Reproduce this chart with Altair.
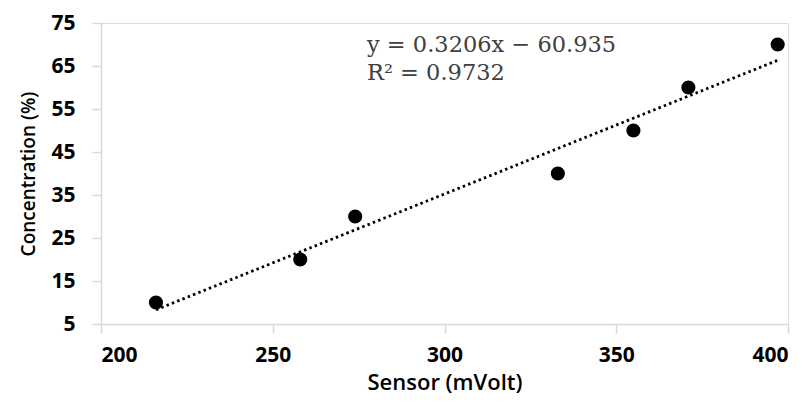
import altair as alt
import pandas as pd

sensor_mv = [216, 258, 274, 333, 355, 371, 397]
concentration = [10, 20, 30, 40, 50, 60, 70]
x_ticks = [200, 250, 300, 350, 400]
y_ticks = [5, 15, 25, 35, 45, 55, 65, 75]
equation_lines = ["y = 0.3206x \u2212 60.935", "R\u00b2 = 0.9732"]

df = pd.DataFrame({"x": sensor_mv, "y": concentration})

axis_common = dict(
    grid=False,
    domainColor="#d9d9d9",
    tickColor="#d9d9d9",
    domainWidth=1.5,
    tickWidth=1.5,
    tickSize=9,
    labelFont="Open Sans",
    labelFontWeight="bold",
    labelFontSize=21,
    labelColor="#000000",
    titleFont="Open Sans",
    titleFontWeight=600,
    titleColor="#000000",
)

xs = alt.X("x:Q", scale=alt.Scale(domain=[200, 400], nice=False, zero=False),
           axis=alt.Axis(values=x_ticks, title="Sensor (mVolt)", labelPadding=11,
                         titlePadding=7, titleFontSize=22, **axis_common))
ys = alt.Y("y:Q", scale=alt.Scale(domain=[5, 75], nice=False, zero=False),
           axis=alt.Axis(values=y_ticks, title="Concentration (%)", labelPadding=17,
                         titlePadding=12, titleFontSize=19, **axis_common))

points = alt.Chart(df).mark_circle(size=200, opacity=1, color="#000000").encode(x=xs, y=ys)

trend = alt.Chart(df).transform_regression("x", "y").mark_line(
    color="#000000", strokeWidth=2.8, strokeDash=[2.5, 3.2], strokeCap="butt"
).encode(x=xs, y=ys)

eq_layers = []
for i, (line, yp) in enumerate(zip(equation_lines, [29, 57])):
    eq_layers.append(
        alt.Chart(pd.DataFrame({"text": [line]})).mark_text(
            font="DejaVu Serif", fontSize=22.5, color="#404040", align="left",
            baseline="alphabetic"
        ).encode(x=alt.value(266), y=alt.value(yp), text="text:N")
    )

chart = alt.layer(trend, points, *eq_layers).properties(
    width=687, height=301,
    autosize=alt.AutoSizeParams(type="none"),
    padding={"left": 93, "top": 15, "right": 15, "bottom": 70},
).configure_view(stroke=None).configure(background="#ffffff")

chart.save("out.html", embed_options={"renderer": "svg", "actions": False})
